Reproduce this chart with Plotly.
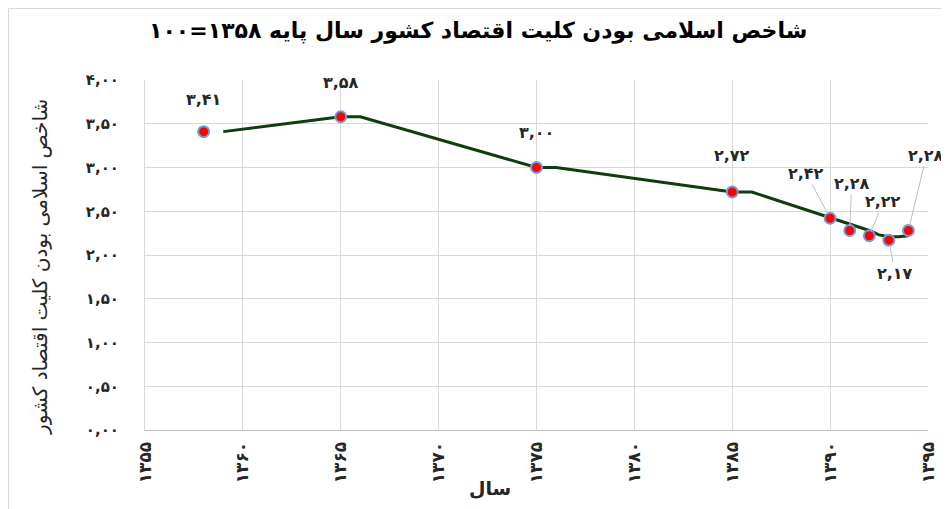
import plotly.graph_objects as go

# ---- data ----
YEARS = [1358, 1365, 1375, 1385, 1390, 1391, 1392, 1393, 1394]
VALUES = [3.41, 3.58, 3.00, 2.72, 2.42, 2.28, 2.22, 2.17, 2.28]

LINE_YEARS = [1359, 1365, 1366, 1375, 1376, 1385, 1386, 1390, 1391, 1392, 1392.5, 1393, 1393.5, 1394]
LINE_VALUES = [3.41, 3.58, 3.58, 3.00, 3.00, 2.72, 2.72, 2.43, 2.36, 2.28, 2.23, 2.21, 2.21, 2.22]

Y_TICKS = [0, 0.5, 1, 1.5, 2, 2.5, 3, 3.5, 4]
Y_TICK_TEXT = ["۰,۰۰", "۰,۵۰", "۱,۰۰", "۱,۵۰", "۲,۰۰", "۲,۵۰", "۳,۰۰", "۳,۵۰", "۴,۰۰"]
X_TICKS = [1355, 1360, 1365, 1370, 1375, 1380, 1385, 1390, 1395]
X_TICK_TEXT = ["۱۳۵۵", "۱۳۶۰", "۱۳۶۵", "۱۳۷۰", "۱۳۷۵", "۱۳۸۰", "۱۳۸۵", "۱۳۹۰", "۱۳۹۵"]

TITLE = "شاخص اسلامی بودن کلیت اقتصاد کشور سال پایه ۱۳۵۸=۱۰۰"
Y_TITLE = "شاخص اسلامی بودن کلیت اقتصاد کشور"
X_TITLE = "سال"

# label offsets (pixels) : (ax, ay, with leader line)
LABEL_OFFSETS = [(0, -32, False), (0, -34, False), (0, -35, False), (0, -37, False),
                 (-24, -45, True), (2, -47, True), (14, -34, True), (6, 33, True), (18, -75, True)]

PERSIAN = str.maketrans("0123456789", "۰۱۲۳۴۵۶۷۸۹")


def fa(v):
    return f"{v:.2f}".replace(".", ",").translate(PERSIAN)


FONT = "DejaVu Sans"
TXT = "#262626"

# page body has an 8px offset: figure is drawn from (8, 8)
OFF = 8
W, H = 949 - OFF, 509 - OFF
L, R, T, B = 145 - OFF, 21, 80 - OFF, 79
pw, ph = W - L - R, H - T - B


def px_x(p):
    return (p - OFF - L) / pw


def px_y(p):
    return (H - B - (p - OFF)) / ph


fig = go.Figure()
fig.add_trace(go.Scatter(x=LINE_YEARS, y=LINE_VALUES, mode="lines",
                         line=dict(color="#0f3d0f", width=3), hoverinfo="skip"))
fig.add_trace(go.Scatter(x=YEARS, y=VALUES, mode="markers",
                         marker=dict(color="#ff0000", size=11,
                                     line=dict(color="#6f9fd8", width=2))))

for yr, v, (ax, ay, arrow) in zip(YEARS, VALUES, LABEL_OFFSETS):
    txt = "<b>" + fa(v) + "</b>"
    if arrow:
        fig.add_annotation(x=yr, y=v, text=txt, showarrow=True, arrowhead=0,
                           arrowwidth=1, arrowcolor="#bfbfbf", ax=ax, ay=ay,
                           standoff=5, startstandoff=0,
                           font=dict(family=FONT, size=16, color=TXT))
    else:
        fig.add_annotation(x=yr, y=v, text=txt, showarrow=False, yshift=-ay,
                           xshift=ax, font=dict(family=FONT, size=16, color=TXT))

fig.update_layout(
    width=W, height=H,
    margin=dict(l=L, r=R, t=T, b=B),
    paper_bgcolor="white", plot_bgcolor="white",
    showlegend=False,
    font=dict(family=FONT, color=TXT),
)
fig.add_annotation(text="<b>" + TITLE + "</b>", xref="paper", yref="paper",
                   x=px_x(478), y=px_y(31), xanchor="center", yanchor="middle",
                   showarrow=False, font=dict(family=FONT, size=22, color="black"))
fig.add_annotation(text=Y_TITLE, xref="paper", yref="paper",
                   x=px_x(40), y=px_y(267), xanchor="center", yanchor="middle",
                   textangle=-90, showarrow=False, font=dict(family=FONT, size=20, color=TXT))
fig.add_annotation(text="<b>" + X_TITLE + "</b>", xref="paper", yref="paper",
                   x=px_x(490), y=px_y(488), xanchor="center", yanchor="middle",
                   showarrow=False, font=dict(family=FONT, size=19, color=TXT))

fig.update_xaxes(range=[1355, 1395], tickvals=X_TICKS, ticktext=["<b>" + t + "</b>" for t in X_TICK_TEXT],
                 tickangle=-90, showgrid=True, gridcolor="#d9d9d9", gridwidth=1,
                 showline=True, linecolor="#bfbfbf", zeroline=False, ticks="",
                 ticklabelstandoff=4,
                 tickfont=dict(family=FONT, size=17, color=TXT))
fig.update_yaxes(range=[0, 4], tickvals=Y_TICKS, ticktext=["<b>" + t + "</b>" for t in Y_TICK_TEXT],
                 showgrid=True, gridcolor="#d9d9d9", gridwidth=1,
                 showline=True, linecolor="#d9d9d9", zeroline=False, ticks="",
                 ticklabelstandoff=22,
                 tickfont=dict(family=FONT, size=15, color=TXT))

# outer chart frame
fig.add_shape(type="rect", xref="paper", yref="paper",
              x0=px_x(8.5), x1=px_x(980), y0=px_y(540), y1=px_y(8.5),
              line=dict(color="#d9d9d9", width=1), layer="below")

fig.write_html("out.html")
